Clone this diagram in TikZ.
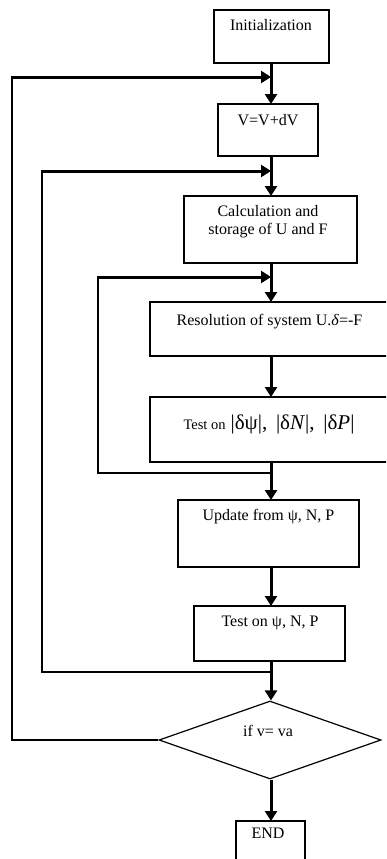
\documentclass[tikz,border=0pt]{standalone}
\usepackage{fontspec}
\setmainfont{Liberation Serif}
\usetikzlibrary{arrows.meta,shapes.geometric}
\begin{document}
\begin{tikzpicture}[x=1pt,y=-1pt,
  box/.style={draw, line width=1.6pt, inner sep=0pt, outer sep=0pt},
  lbl/.style={inner sep=0pt, align=center, font=\fontsize{16}{18}\selectfont, text height=1.5ex, text depth=0.25ex},
  flow/.style={line width=3pt, -{Triangle[length=10pt,width=12pt]}},
  back/.style={line width=1.6pt},
  ]
\clip (0,0) rectangle (386,859);
\fill[white] (0,0) rectangle (386,859);
\coordinate (ax) at (271,0);
% boxes
\node[box, minimum width=115pt, minimum height=53pt] (init) at (271.5,36.5) {};
\node[box, minimum width=100pt, minimum height=52pt] (vbox) at (268,130) {};
\node[box, minimum width=173pt, minimum height=67pt] (calc) at (270.5,229.5) {};
\node[box, minimum width=250pt, minimum height=54pt] (res) at (275,329) {};
\node[box, minimum width=250pt, minimum height=65pt] (test1) at (275,429.5) {};
\node[box, minimum width=181pt, minimum height=67pt] (upd) at (268.5,533.5) {};
\node[box, minimum width=151pt, minimum height=55pt] (test2) at (269.5,633.5) {};
\node[draw, line width=1.2pt, diamond, inner sep=0pt, minimum width=222pt, minimum height=78pt] (dia) at (270,740) {};
\node[box, minimum width=69pt, minimum height=59pt] (endb) at (270.5,850.5) {};
% labels
\node[lbl] (tinit) at (271,28) {Initialization};
\node[lbl] (tv) at (268,123) {V=V+dV};
\node[lbl] (tcalc1) at (268,214) {Calculation and};
\node[lbl] (tcalc2) at (268,232) {storage of U and F};
\node[lbl] (tres) at (269.5,323) {Resolution of system U.\textit{δ}=-F};
\node[inner sep=0pt] (ttest1) at (269,424) {{\fontsize{14.5}{16}\selectfont Test on}\ \ {\fontsize{21}{23}\selectfont |δψ|,\, |δ\textit{N}|,\, |δ\textit{P}|}};
\node[lbl] (tupd) at (268.5,518) {Update from ψ, N, P};
\node[lbl] (ttest2) at (270,624) {Test on ψ, N, P};
\node[lbl] (tdia) at (268,734) {if v= va};
\node[lbl] (tend) at (268,836) {END};
% junctions
\coordinate (j1) at (271,77);
\coordinate (l1) at (12,77);
\coordinate (j2) at (271,171);
\coordinate (l2) at (42,171);
\coordinate (j3) at (271,277);
\coordinate (l3) at (98,277);
\coordinate (b3) at (271,473);
\coordinate (b2) at (271,672);
% main flow
\draw[flow] (init.south -| ax) -- (vbox.north -| ax);
\draw[flow] (vbox.south -| ax) -- (calc.north -| ax);
\draw[flow] (calc.south -| ax) -- (res.north -| ax);
\draw[flow] (res.south -| ax) -- (test1.north -| ax);
\draw[flow] (test1.south -| ax) -- (upd.north -| ax);
\draw[flow] (upd.south -| ax) -- (test2.north -| ax);
\draw[flow] (test2.south -| ax) -- (dia.north -| ax);
\draw[flow] (dia.south -| ax) -- (endb.north -| ax);
% feedback loops
\draw[back] (b3) -| (l3);
\draw[flow] ([xshift=-0.8pt]l3) -- (j3);
\draw[back] (b2) -| (l2);
\draw[flow] ([xshift=-0.8pt]l2) -- (j2);
\draw[back] (dia.west) -| (l1);
\draw[flow] ([xshift=-0.8pt]l1) -- (j1);
\end{tikzpicture}
\end{document}
